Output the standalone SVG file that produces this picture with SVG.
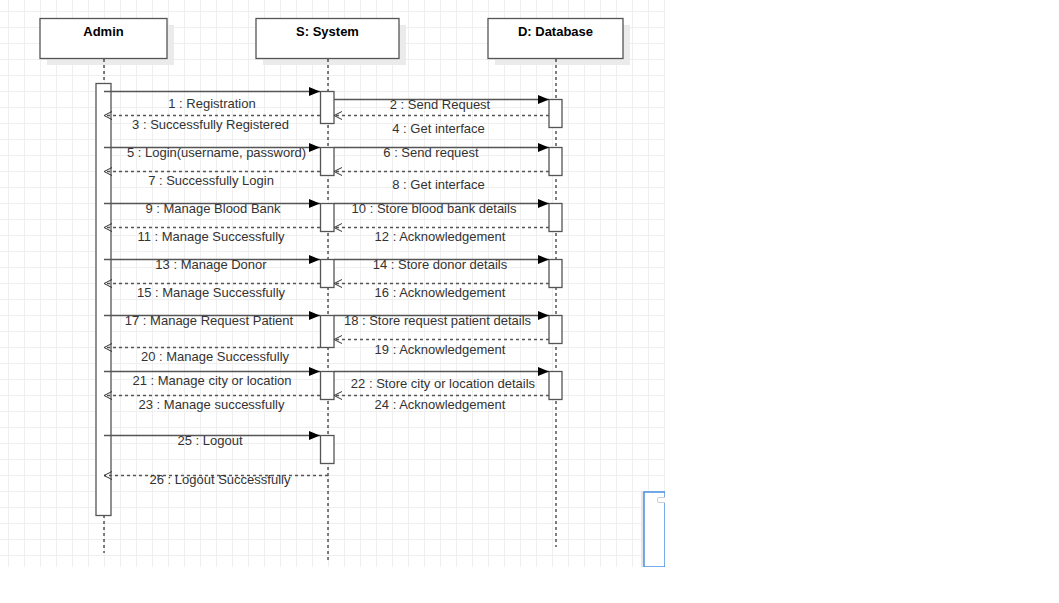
<svg xmlns="http://www.w3.org/2000/svg" width="1059" height="603" viewBox="0 0 1059 603">
<defs>
<pattern id="grid" patternUnits="userSpaceOnUse" x="8" y="11" width="16" height="16">
<path d="M0 0.5H16M0.5 0V16" fill="none" stroke="#efefef" stroke-width="1"/>
</pattern>
<marker id="fill" markerWidth="12" markerHeight="10" refX="11" refY="5" orient="auto" markerUnits="userSpaceOnUse">
<path d="M0 0.5L11 5L0 9.5Z" fill="#000"/>
</marker>
<marker id="open" markerWidth="10" markerHeight="10" refX="8" refY="5" orient="auto" markerUnits="userSpaceOnUse">
<path d="M0 1L8 5L0 9" fill="none" stroke="#333" stroke-width="1"/>
</marker>
</defs>
<style>
.head{fill:#fff;stroke:#555;stroke-width:1.3}
.shadow{fill:#ebebeb}
.title{font-family:"Liberation Sans",Arial,sans-serif;font-size:13px;font-weight:bold;fill:#000;text-anchor:middle}
.life{stroke:#000;stroke-width:1;stroke-dasharray:3 3;fill:none}
.act{fill:#fff;stroke:#555;stroke-width:1.3}
.msg{stroke:#555;stroke-width:1.3;fill:none;marker-end:url(#fill)}
.ret{stroke:#555;stroke-width:1.3;fill:none;stroke-dasharray:3 3;marker-end:url(#open)}
.lbl{font-family:"Liberation Sans",Arial,sans-serif;font-size:13px;fill:#333;text-anchor:middle}
</style>
<rect width="1059" height="603" fill="#fff"/>
<rect x="0" y="0" width="665" height="567" fill="url(#grid)"/>

<g id="admin">
<rect class="shadow" x="47" y="25" width="127" height="40"/>
<rect class="head" x="40" y="18.5" width="127" height="40"/>
<text class="title" x="103.5" y="36">Admin</text>
<line class="life" x1="104" y1="59" x2="104" y2="553"/>
<rect class="act" x="96" y="83.5" width="15" height="432"/>
</g>
<g id="system">
<rect class="shadow" x="263" y="25" width="143" height="40"/>
<rect class="head" x="256" y="18.5" width="143" height="40"/>
<text class="title" x="327.5" y="36">S: System</text>
<line class="life" x1="328" y1="59" x2="328" y2="560"/>
<rect class="act" x="320.5" y="91.5" width="13.5" height="32"/>
<rect class="act" x="320.5" y="147.5" width="13.5" height="28"/>
<rect class="act" x="320.5" y="203.5" width="13.5" height="28"/>
<rect class="act" x="320.5" y="259.5" width="13.5" height="28"/>
<rect class="act" x="320.5" y="315.5" width="13.5" height="32"/>
<rect class="act" x="320.5" y="371.5" width="13.5" height="28"/>
<rect class="act" x="320.5" y="435.5" width="13.5" height="28"/>
</g>
<g id="database">
<rect class="shadow" x="495" y="25" width="135" height="40"/>
<rect class="head" x="488" y="18.5" width="135" height="40"/>
<text class="title" x="555.5" y="36">D: Database</text>
<line class="life" x1="556" y1="59" x2="556" y2="547"/>
<rect class="act" x="549" y="99.5" width="13" height="28"/>
<rect class="act" x="549" y="147.5" width="13" height="28"/>
<rect class="act" x="549" y="203.5" width="13" height="28"/>
<rect class="act" x="549" y="259.5" width="13" height="28"/>
<rect class="act" x="549" y="315.5" width="13" height="28"/>
<rect class="act" x="549" y="371.5" width="13" height="28"/>
</g>

<g id="connectors">
<line class="msg" x1="104" y1="91.5" x2="320" y2="91.5"/>
<line class="msg" x1="334" y1="99.5" x2="549" y2="99.5"/>
<line class="ret" x1="549" y1="115.5" x2="334" y2="115.5"/>
<line class="ret" x1="320" y1="115.5" x2="104" y2="115.5"/>
<line class="msg" x1="104" y1="147.5" x2="320" y2="147.5"/>
<line class="msg" x1="334" y1="147.5" x2="549" y2="147.5"/>
<line class="ret" x1="549" y1="171.5" x2="334" y2="171.5"/>
<line class="ret" x1="320" y1="171.5" x2="104" y2="171.5"/>
<line class="msg" x1="104" y1="203.5" x2="320" y2="203.5"/>
<line class="msg" x1="334" y1="203.5" x2="549" y2="203.5"/>
<line class="ret" x1="549" y1="227.5" x2="334" y2="227.5"/>
<line class="ret" x1="320" y1="227.5" x2="104" y2="227.5"/>
<line class="msg" x1="104" y1="259.5" x2="320" y2="259.5"/>
<line class="msg" x1="334" y1="259.5" x2="549" y2="259.5"/>
<line class="ret" x1="549" y1="283.5" x2="334" y2="283.5"/>
<line class="ret" x1="320" y1="283.5" x2="104" y2="283.5"/>
<line class="msg" x1="104" y1="315.5" x2="320" y2="315.5"/>
<line class="msg" x1="334" y1="315.5" x2="549" y2="315.5"/>
<line class="ret" x1="549" y1="339.5" x2="334" y2="339.5"/>
<line class="ret" x1="320" y1="347.5" x2="104" y2="347.5"/>
<line class="msg" x1="104" y1="371.5" x2="320" y2="371.5"/>
<line class="msg" x1="334" y1="371.5" x2="549" y2="371.5"/>
<line class="ret" x1="549" y1="395.5" x2="334" y2="395.5"/>
<line class="ret" x1="320" y1="395.5" x2="104" y2="395.5"/>
<line class="msg" x1="104" y1="435.5" x2="320" y2="435.5"/>
<line class="ret" x1="328" y1="475.5" x2="104" y2="475.5"/>
</g>

<g id="labels">
<text class="lbl" x="212" y="107.5">1 : Registration</text>
<text class="lbl" x="210.5" y="128.5">3 : Successfully Registered</text>
<text class="lbl" x="440" y="108.5">2 : Send Request</text>
<text class="lbl" x="438.5" y="132.5">4 : Get interface</text>
<text class="lbl" x="216.5" y="156.5">5 : Login(username, password)</text>
<text class="lbl" x="431" y="156.5">6 : Send request</text>
<text class="lbl" x="211" y="184.5">7 : Successfully Login</text>
<text class="lbl" x="438.5" y="188.5">8 : Get interface</text>
<text class="lbl" x="213" y="212.5">9 : Manage Blood Bank</text>
<text class="lbl" x="434" y="212.5">10 : Store blood bank details</text>
<text class="lbl" x="211" y="240.5">11 : Manage Successfully</text>
<text class="lbl" x="440" y="240.5">12 : Acknowledgement</text>
<text class="lbl" x="211" y="268.5">13 : Manage Donor</text>
<text class="lbl" x="440" y="268.5">14 : Store donor details</text>
<text class="lbl" x="211" y="296.5">15 : Manage Successfully</text>
<text class="lbl" x="440" y="296.5">16 : Acknowledgement</text>
<text class="lbl" x="209" y="324.5">17 : Manage Request Patient</text>
<text class="lbl" x="437.5" y="324.5">18 : Store request patient details</text>
<text class="lbl" x="440" y="353.5">19 : Acknowledgement</text>
<text class="lbl" x="215" y="360.5">20 : Manage Successfully</text>
<text class="lbl" x="212" y="384.5">21 : Manage city or location</text>
<text class="lbl" x="443" y="387.5">22 : Store city or location details</text>
<text class="lbl" x="211.5" y="408.5">23 : Manage successfully</text>
<text class="lbl" x="440" y="408.5">24 : Acknowledgement</text>
<text class="lbl" x="210" y="444.5">25 : Logout</text>
<text class="lbl" x="220" y="483.5">26 : Logout Successfully</text>
</g>

<g id="overlay">
<rect x="641" y="491" width="24" height="76" fill="#e6e6e6"/>
<rect x="644" y="492" width="21" height="75" fill="#fff" stroke="#4a90e2" stroke-width="1.5"/>
<rect x="657.5" y="497.5" width="10" height="5" rx="1.5" fill="#fff" stroke="#ccc" stroke-width="1"/>
<rect x="665" y="485" width="394" height="118" fill="#fff"/>
<rect x="640" y="567" width="30" height="36" fill="#fff"/>
</g>
</svg>
